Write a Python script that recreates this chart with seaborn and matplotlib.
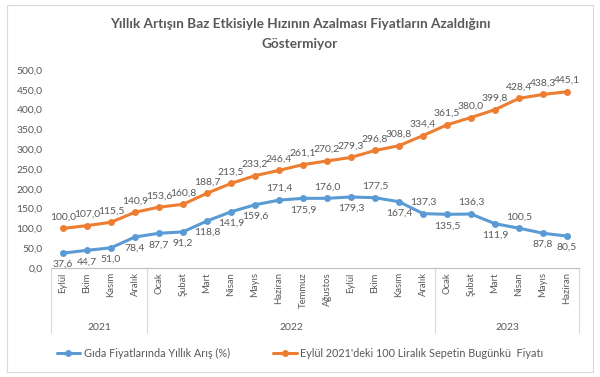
import pandas as pd
import seaborn as sns
import matplotlib.pyplot as plt
from matplotlib.patches import Rectangle
from matplotlib.lines import Line2D

# Data
months = ['Eylül', 'Ekim', 'Kasım', 'Aralık',
          'Ocak', 'Şubat', 'Mart', 'Nisan', 'Mayıs', 'Haziran',
          'Temmuz', 'Ağustos', 'Eylül', 'Ekim', 'Kasım', 'Aralık',
          'Ocak', 'Şubat', 'Mart', 'Nisan', 'Mayıs', 'Haziran']
years = ['2021', '2022', '2023']
year_counts = [4, 12, 6]
food_inflation = [37.6, 44.7, 51.0, 78.4, 87.7, 91.2, 118.8, 141.9, 159.6, 171.4, 175.9,
                  176.0, 179.3, 177.5, 167.4, 137.3, 135.5, 136.3, 111.9, 100.5, 87.8, 80.5]
basket_price = [100.0, 107.0, 115.5, 140.9, 153.6, 160.8, 188.7, 213.5, 233.2, 246.4, 261.1,
                270.2, 279.3, 296.8, 308.8, 334.4, 361.5, 380.0, 399.8, 428.4, 438.3, 445.1]
series_names = ['Gıda Fiyatlarında Yıllık Arış (%)',
                "Eylül 2021'deki 100 Liralık Sepetin Bugünkü  Fiyatı"]
title = 'Yıllık Artışın Baz Etkisiyle Hızının Azalması Fiyatların Azaldığını\nGöstermiyor'

# which blue labels sit above the point
blue_above = {9, 11, 13, 15, 17, 19}

colors = ['#5B9BD5', '#ED7D31']
text_color = '#595959'

df = pd.DataFrame({'idx': list(range(len(months))) * 2,
                   'value': food_inflation + basket_price,
                   'series': [series_names[0]] * len(months) + [series_names[1]] * len(months)})

sns.set_style('white')
plt.rcParams['font.family'] = ['Lato', 'DejaVu Sans']

fig = plt.figure(figsize=(6, 3.77), dpi=100)
fig.patches.append(Rectangle((7 / 600, 5 / 377), 586 / 600, 367 / 377, transform=fig.transFigure,
                             fill=False, edgecolor='#D9D9D9', linewidth=0.8))
ax = fig.add_axes([51 / 600, 1 - 268 / 377, 528 / 600, 198 / 377])

sns.lineplot(data=df, x='idx', y='value', hue='series', palette=colors, marker='o',
             markersize=5, markeredgewidth=0, linewidth=2.2, legend=False, ax=ax)

ax.set_xlim(-0.5, len(months) - 0.5)
ax.set_ylim(0, 500)
ax.set_yticks(range(0, 501, 50))
ax.set_yticklabels([f'{v:.1f}'.replace('.', ',') for v in range(0, 501, 50)],
                   fontsize=7.5, color=text_color)
ax.set_xticks(range(len(months)))
ax.set_xticklabels(months, rotation=90, fontsize=6.8, color=text_color, va='top')
ax.tick_params(axis='both', length=0, pad=3)
ax.tick_params(axis='y', pad=6)
ax.set_xlabel('')
ax.set_ylabel('')
for s in ['top', 'right', 'left']:
    ax.spines[s].set_visible(False)
ax.spines['bottom'].set_color('#BFBFBF')
ax.spines['bottom'].set_linewidth(0.8)

# data labels
for i, v in enumerate(basket_price):
    ax.annotate(f'{v:.1f}'.replace('.', ','), (i, v), xytext=(0, 5), textcoords='offset points',
                ha='center', va='bottom', fontsize=7.5, color=text_color)
for i, v in enumerate(food_inflation):
    dy = 5 if i in blue_above else -5
    ax.annotate(f'{v:.1f}'.replace('.', ','), (i, v), xytext=(0, dy), textcoords='offset points',
                ha='center', va='bottom' if dy > 0 else 'top', fontsize=7.5, color=text_color)

# year level of the category axis
trans = ax.get_xaxis_transform()
start = -0.5
bounds = [start]
for y, n in zip(years, year_counts):
    ax.text(start + n / 2, -0.3, y, transform=trans, ha='center', va='center',
            fontsize=7.5, color=text_color)
    start += n
    bounds.append(start)
for b in bounds:
    ax.plot([b, b], [0, -0.33], transform=trans, color='#D9D9D9', linewidth=0.8, clip_on=False)

fig.text(0.5, 1 - 34 / 377, title, ha='center', va='center', fontsize=9.8,
         fontweight='bold', color=text_color, linespacing=1.9)

handles = [Line2D([0], [0], color=c, linewidth=2.2, marker='o', markersize=5, markeredgewidth=0)
           for c in colors]
fig.legend(handles, series_names, loc='center', bbox_to_anchor=(0.5, 1 - 353 / 377), ncol=2,
           frameon=False, fontsize=7.8, labelcolor=text_color, handlelength=2.2,
           handletextpad=0.3, columnspacing=4)

fig.savefig('out.png', dpi=100)
